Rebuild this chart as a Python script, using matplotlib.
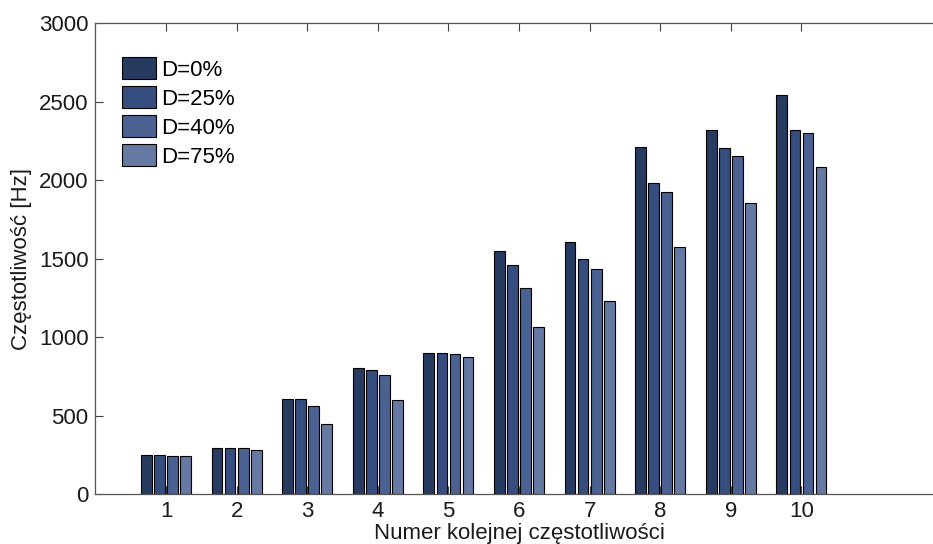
import numpy as np
import matplotlib.pyplot as plt

plt.rcParams.update({
    'font.family': ['Liberation Sans', 'DejaVu Sans'],
    'font.size': 16,
})

# data
modes = [1, 2, 3, 4, 5, 6, 7, 8, 9, 10]
labels = ['D=0%', 'D=25%', 'D=40%', 'D=75%']
freq_d0 = [250, 290, 605, 800, 900, 1550, 1605, 2210, 2318, 2543]
freq_d25 = [250, 290, 605, 788, 896, 1456, 1495, 1981, 2206, 2318]
freq_d40 = [245, 290, 558, 760, 890, 1310, 1431, 1921, 2155, 2299]
freq_d75 = [240, 278, 448, 600, 875, 1064, 1229, 1571, 1855, 2081]
series = [freq_d0, freq_d25, freq_d40, freq_d75]
colors = ['#273a60', '#354d7f', '#4a6191', '#6679a2']

fig = plt.figure(figsize=(9.33, 5.44), dpi=100)
ax = fig.add_axes([0.1023, 0.0919, 0.908, 0.8658])

x = np.array(modes)
step = 0.185
width = 0.152
for i, (vals, c, lab) in enumerate(zip(series, colors, labels)):
    ax.bar(x + (i - 1.5) * step, vals, width=width, color=c,
           edgecolor='black', linewidth=0.8, label=lab)

ax.set_xlim(0, 12)
ax.set_ylim(0, 3000)
ax.set_xticks(modes)
ax.set_yticks(np.arange(0, 3001, 500))
ax.tick_params(direction='in', length=5.5, width=0.8, top=True, right=True,
               colors='#404040', labelcolor='#1a1a1a', labelsize=16, pad=5)
for s in ax.spines.values():
    s.set_color('#555555')
    s.set_linewidth(0.9)

ax.set_xlabel('Numer kolejnej częstotliwości', fontsize=16, color='#1a1a1a', labelpad=1)
ax.set_ylabel('Częstotliwość [Hz]', fontsize=16, color='#1a1a1a', labelpad=5)

ax.legend(loc='upper left', bbox_to_anchor=(122 / 933, (544 - 57) / 544),
          bbox_transform=fig.transFigure, frameon=False, borderpad=0,
          borderaxespad=0, handlelength=1.55, handleheight=1.15,
          labelspacing=0.25, handletextpad=0.2, fontsize=16)

fig.savefig('out.png', dpi=100, facecolor='white')
